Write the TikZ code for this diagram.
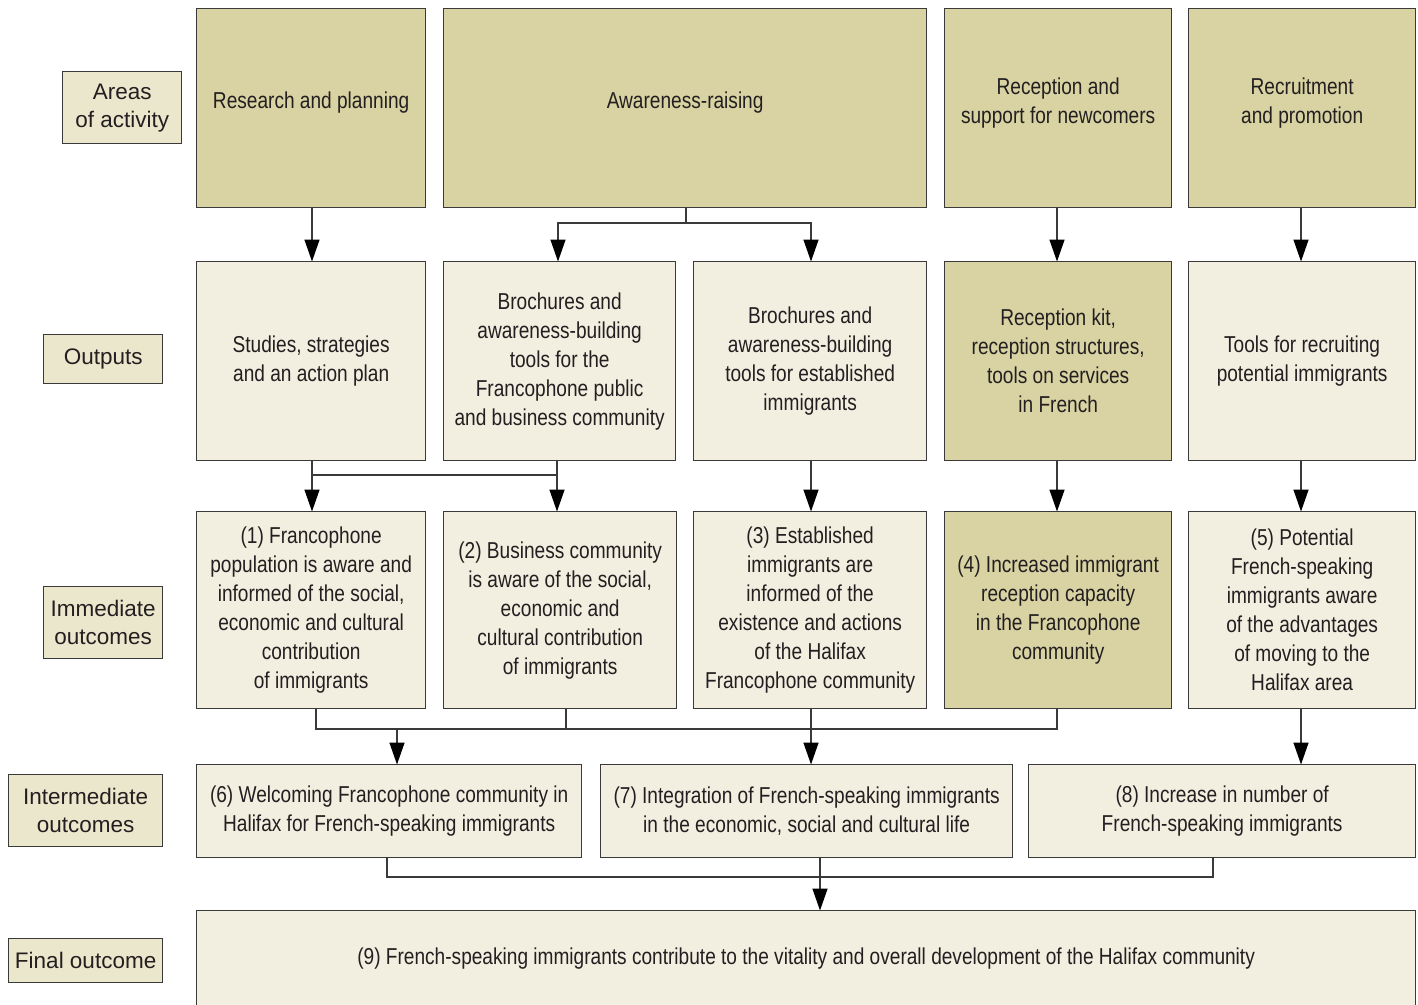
\documentclass[tikz,border=0pt]{standalone}
\usepackage{fontspec}
\setmainfont{Liberation Sans}[FakeStretch=0.83]
\newfontfamily\labfont{Liberation Sans}
\usetikzlibrary{arrows.meta}
\definecolor{darktan}{HTML}{D9D3A3}
\definecolor{lighttan}{HTML}{F2EFE1}
\definecolor{labtan}{HTML}{EBE7CD}
\definecolor{ink}{HTML}{231F20}
\definecolor{edge}{HTML}{3A3A3A}
\tikzset{
  box/.style={draw=edge, line width=1.3pt, fill=lighttan, inner sep=2pt, anchor=north west,
    align=center, text=ink, font=\fontsize{23}{29}\selectfont},
  dbox/.style={box, fill=darktan},
  lab/.style={draw=edge, line width=1.3pt, fill=labtan, inner sep=0pt, anchor=north west,
    align=center, text=ink, font=\labfont\fontsize{22.5}{28}\selectfont},
  txt/.style={align=center, text=ink, font=\fontsize{23}{29}\selectfont, inner sep=0pt},
  conn/.style={draw=edge, line width=1.5pt},
  arr/.style={conn, -{Triangle[length=22pt,width=15pt,color=black,fill=black]}, shorten >=-0.5pt},
}
\newcommand{\mybox}[7]{% style, name, x1, y1, x2, y2, text
  \node[#1, minimum width=#5pt-#3pt, minimum height=#6pt-#4pt] (#2) at (#3,#4) {#7};}
\begin{document}
\begin{tikzpicture}[x=1pt,y=-1pt]
\useasboundingbox (0,0) rectangle (1418,1004);
\begin{scope}
\clip (0,0) rectangle (1418,1004);
% left labels
\mybox{lab}{l1}{62}{71}{181}{143}{Areas\\of activity}
\mybox{lab}{l2}{43}{334}{162}{383}{Outputs}
\mybox{lab}{l3}{43}{586}{162}{658}{Immediate\\outcomes}
\mybox{lab}{l4}{8}{774}{162}{846}{Intermediate\\outcomes}
\mybox{lab}{l5}{8}{938}{162}{982}{Final outcome}
% row 1
\mybox{dbox}{rp}{196}{8}{425}{207}{}
\mybox{dbox}{aw}{443}{8}{926}{207}{}
\mybox{dbox}{rs}{944}{8}{1171}{207}{}
\mybox{dbox}{rc}{1188}{8}{1415}{207}{}
\node[txt] (trp) at ([yshift=6pt]rp.center) {Research and planning};
\node[txt] (taw) at ([yshift=6pt]aw.center) {Awareness-raising};
\node[txt] (trs) at ([yshift=5pt]rs.center) {Reception and\\support for newcomers};
\node[txt] (trc) at ([yshift=5pt]rc.center) {Recruitment\\and promotion};
% row 2
\mybox{box}{st}{196}{261}{425}{460}{Studies, strategies\\and an action plan}
\mybox{box}{b1}{443}{261}{675}{460}{Brochures and\\awareness-building\\tools for the\\Francophone public\\and business community}
\mybox{box}{b2}{693}{261}{926}{460}{Brochures and\\awareness-building\\tools for established\\immigrants}
\mybox{dbox}{kit}{944}{261}{1171}{460}{Reception kit,\\reception structures,\\tools on services\\in French}
\mybox{box}{tl}{1188}{261}{1415}{460}{Tools for recruiting\\potential immigrants}
% row 3
\mybox{box}{o1}{196}{511}{425}{708}{(1) Francophone\\population is aware and\\informed of the social,\\economic and cultural\\contribution\\of immigrants}
\mybox{box}{o2}{443}{511}{676}{708}{(2) Business community\\is aware of the social,\\economic and\\cultural contribution\\of immigrants}
\mybox{box}{o3}{693}{511}{926}{708}{(3) Established\\immigrants are\\informed of the\\existence and actions\\of the Halifax\\Francophone community}
\mybox{dbox}{o4}{944}{511}{1171}{708}{(4) Increased immigrant\\reception capacity\\in the Francophone\\community}
\mybox{box}{o5}{1188}{511}{1415}{708}{(5) Potential\\French-speaking\\immigrants aware\\of the advantages\\of moving to the\\Halifax area}
% row 4
\mybox{box}{o6}{196}{764}{581}{857}{(6) Welcoming Francophone community in\\Halifax for French-speaking immigrants}
\mybox{box}{o7}{600}{764}{1012}{857}{(7) Integration of French-speaking immigrants\\in the economic, social and cultural life}
\mybox{box}{o8}{1028}{764}{1415}{857}{(8) Increase in number of\\French-speaking immigrants}
% row 5
\mybox{box}{o9}{196}{910}{1415}{1006}{(9) French-speaking immigrants contribute to the vitality and overall development of the Halifax community}
\end{scope}
% connectors row1 -> row2
\draw[arr] (rp.south -| 312,0) -- (st.north -| 312,0);
\coordinate (ja) at (686,223);
\draw[conn] (aw.south -| ja) -- (ja);
\draw[arr] (ja) -| (b1.north -| 558,0);
\draw[arr] (ja) -| (b2.north -| 811,0);
\draw[arr] (rs.south -| 1057,0) -- (kit.north -| 1057,0);
\draw[arr] (rc.south -| 1301,0) -- (tl.north -| 1301,0);
% row2 -> row3
\coordinate (jb) at (312,475);
\draw[arr] (st.south -| jb) -- (o1.north -| jb);
\draw[arr] (b1.south -| 557,0) -- (o2.north -| 557,0);
\draw[conn] (jb) -- (557,475);
\draw[arr] (b2.south -| 811,0) -- (o3.north -| 811,0);
\draw[arr] (kit.south -| 1057,0) -- (o4.north -| 1057,0);
\draw[arr] (tl.south -| 1301,0) -- (o5.north -| 1301,0);
% row3 -> row4
\coordinate (jc) at (316,729);
\draw[conn] (o1.south -| jc) -- (jc) -- (1057,729) -- (o4.south -| 1057,0);
\draw[conn] (o2.south -| 566,0) -- (566,729);
\draw[arr] (397,729) -- (o6.north -| 397,0);
\draw[arr] (o3.south -| 811,0) -- (o7.north -| 811,0);
\draw[arr] (o5.south -| 1301,0) -- (o8.north -| 1301,0);
% row4 -> row5
\coordinate (jd) at (387,877);
\draw[conn] (o6.south -| jd) -- (jd) -- (1213,877) -- (o8.south -| 1213,0);
\draw[arr] (o7.south -| 820,0) -- (o9.north -| 820,0);
\end{tikzpicture}
\end{document}
